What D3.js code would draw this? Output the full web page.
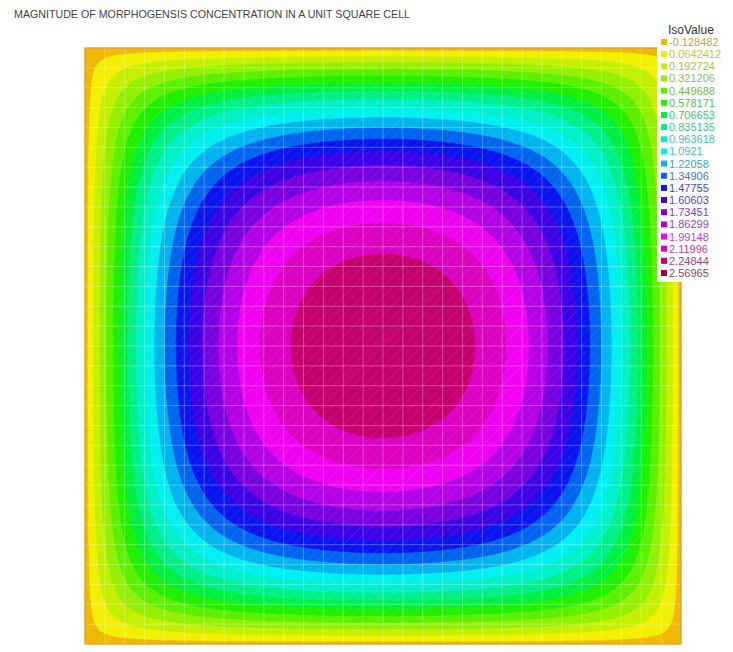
<!DOCTYPE html>
<html>
<head>
<meta charset="utf-8">
<script src="https://cdn.jsdelivr.net/npm/d3@7"></script>
<style>
  html, body { margin: 0; padding: 0; background: #fff; }
  svg { display: block; }
  text { font-family: "Liberation Sans", Arial, sans-serif; }
</style>
</head>
<body>
<script>
// Iso levels shown in the legend (lower bound of each filled band)
const isoLabels = ["-0.128482", "0.0642412", "0.192724", "0.321206", "0.449688",
  "0.578171", "0.706653", "0.835135", "0.963618", "1.0921", "1.22058", "1.34906",
  "1.47755", "1.60603", "1.73451", "1.86299", "1.99148", "2.11996", "2.24844", "2.56965"];
const isoValues = isoLabels.map(Number);
// Fill colour of each band
const isoColors = ["#f2b800", "#f0f000", "#c4f000", "#92f000", "#5af000",
  "#1ef000", "#00f040", "#00f088", "#00f0c8", "#00f0f0", "#00b4f0", "#0064f0",
  "#0a14f0", "#3c00e6", "#7800e0", "#b400e6", "#f000f0", "#dc00c0", "#c4006e", "#a00040"];
// Peak concentration at the cell centre and degradation rate (relative to diffusion)
const peakValue = 2.4;
const decayRate = 16;

const W = 733, H = 652;
const plot = { x: 85, y: 48, size: 596 };

const svg = d3.select("body").append("svg").attr("width", W).attr("height", H);

svg.append("text")
  .attr("x", 14).attr("y", 18)
  .attr("font-size", 10.5).attr("fill", "#444")
  .attr("textLength", 396).attr("lengthAdjust", "spacingAndGlyphs")
  .text("MAGNITUDE OF MORPHOGENSIS CONCENTRATION IN A UNIT SQUARE CELL");

// Steady state of -Δc + k c = s on the unit square with c = 0 on the boundary,
// solved with the double sine series.
const N = 240, K = 61;
const sinTab = [];
for (let m = 1; m <= K; m += 2) {
  const row = new Float64Array(N);
  for (let i = 0; i < N; i++) row[i] = Math.sin(m * Math.PI * (i + 0.5) / N);
  sinTab.push({ m, row });
}
const grid = new Float64Array(N * N);
for (const a of sinTab) for (const b of sinTab) {
  const coef = 1 / (a.m * b.m * (Math.PI * Math.PI * (a.m * a.m + b.m * b.m) + decayRate));
  for (let j = 0; j < N; j++) {
    const sb = b.row[j] * coef;
    for (let i = 0; i < N; i++) grid[j * N + i] += a.row[i] * sb;
  }
}
let gmax = 0;
for (const v of grid) gmax = Math.max(gmax, v);
for (let k = 0; k < grid.length; k++) grid[k] *= peakValue / gmax;

const bands = d3.contours().size([N, N]).thresholds(isoValues)(grid);
const proj = d3.geoIdentity().scale(plot.size / N).translate([plot.x, plot.y]);
const path = d3.geoPath(proj);

const g = svg.append("g");
g.selectAll("path.band").data(bands).join("path")
  .attr("class", "band")
  .attr("d", path)
  .attr("fill", (d, i) => isoColors[i])
  .attr("stroke", (d, i) => isoColors[i])
  .attr("stroke-width", 0.6);

// Triangular mesh overlay
const sx = d3.scaleLinear().domain([0, 1]).range([plot.x, plot.x + plot.size]);
const sy = d3.scaleLinear().domain([0, 1]).range([plot.y + plot.size, plot.y]);
const nMesh = 30;
const mesh = svg.append("g").attr("stroke", "#fff").attr("fill", "none");
for (let k = 1; k < nMesh; k++) {
  const t = k / nMesh;
  mesh.append("line").attr("x1", sx(t)).attr("x2", sx(t)).attr("y1", sy(0)).attr("y2", sy(1))
    .attr("stroke-opacity", 0.28).attr("stroke-width", 1);
  mesh.append("line").attr("y1", sy(t)).attr("y2", sy(t)).attr("x1", sx(0)).attr("x2", sx(1))
    .attr("stroke-opacity", 0.28).attr("stroke-width", 1);
}
const nDiag = 60;
for (let k = -nDiag + 1; k < nDiag; k++) {
  const c = k / nDiag; // line y = x + c
  const x0 = Math.max(0, -c), x1 = Math.min(1, 1 - c);
  mesh.append("line")
    .attr("x1", sx(x0)).attr("y1", sy(x0 + c)).attr("x2", sx(x1)).attr("y2", sy(x1 + c))
    .attr("stroke-opacity", 0.13).attr("stroke-width", 0.8);
}

svg.append("rect")
  .attr("x", plot.x).attr("y", plot.y).attr("width", plot.size).attr("height", plot.size)
  .attr("fill", "none").attr("stroke", "#d4a040").attr("stroke-width", 1.2);

// Legend
const leg = svg.append("g");
leg.append("rect").attr("x", 657).attr("y", 22).attr("width", 76).attr("height", 260).attr("fill", "#fff");
leg.append("text").attr("x", 668).attr("y", 34).attr("font-size", 12).attr("fill", "#333").text("IsoValue");
const ly = d3.scaleLinear().domain([0, isoLabels.length - 1]).range([42, 273]);
isoLabels.forEach((lab, i) => {
  leg.append("rect").attr("x", 661).attr("y", ly(i) - 3).attr("width", 6).attr("height", 6)
    .attr("fill", isoColors[i]);
  leg.append("text").attr("x", 669).attr("y", ly(i) + 4).attr("font-size", 11)
    .attr("fill", d3.interpolateRgb(isoColors[i], "#8a8aa0")(0.45)).text(lab);
});
</script>
</body>
</html>
